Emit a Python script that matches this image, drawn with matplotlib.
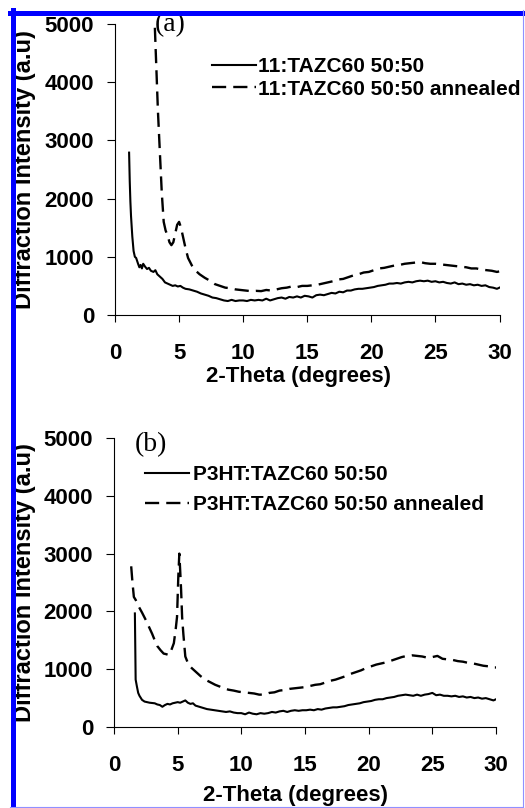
import matplotlib
matplotlib.use("Agg")
import matplotlib.pyplot as plt
from matplotlib.lines import Line2D

plt.rcParams['font.family'] = ['Liberation Sans', 'DejaVu Sans']
plt.rcParams['font.weight'] = 'bold'

# panel (a): 11:TAZC60 50:50
xa_solid = [1.10, 1.15, 1.20, 1.25, 1.35, 1.45, 1.55, 1.65, 1.8, 1.9, 2.0, 2.1, 2.2, 2.35, 2.5,
            2.65, 2.8, 3.0, 3.15, 3.3, 3.5, 3.7, 3.9, 4.1, 4.3, 4.5, 4.7, 4.9, 5.1, 5.3, 5.5,
            5.8, 6.1, 6.4, 6.7, 7.0, 7.3, 7.6, 7.9, 8.2, 8.5, 8.8, 9.1, 9.4, 9.7, 10.0, 10.3,
            10.6, 10.9, 11.2, 11.5, 11.8, 12.1, 12.4, 12.7, 13.0, 13.3, 13.6, 13.9, 14.2, 14.5,
            14.8, 15.1, 15.4, 15.7, 16.0, 16.3, 16.6, 16.9, 17.2, 17.5, 17.8, 18.1, 18.4, 18.7,
            19.0, 19.3, 19.6, 19.9, 20.2, 20.5, 20.8, 21.1, 21.4, 21.7, 22.0, 22.3, 22.6, 22.9,
            23.2, 23.5, 23.8, 24.1, 24.4, 24.7, 25.0, 25.3, 25.6, 25.9, 26.2, 26.5, 26.8, 27.1,
            27.4, 27.7, 28.0, 28.3, 28.6, 28.9, 29.2, 29.5, 29.8, 30.0]
ya_solid = [2790, 2300, 1950, 1700, 1350, 1100, 1000, 980, 880, 820, 860, 800, 880, 830, 790,
            810, 760, 740, 770, 700, 660, 620, 560, 540, 520, 500, 510, 490, 500, 470, 450,
            440, 420, 400, 370, 350, 330, 300, 290, 270, 250, 240, 260, 240, 250, 250, 240,
            260, 250, 260, 250, 280, 250, 270, 290, 300, 280, 310, 300, 320, 300,
            330, 320, 300, 340, 350, 340, 360, 380, 370, 400, 390, 420, 420, 440,
            450, 450, 460, 470, 480, 500, 510, 520, 540, 540, 550, 540, 560, 570,
            560, 580, 590, 580, 590, 570, 580, 560, 570, 550, 540, 560, 530, 540,
            520, 530, 510, 520, 500, 510, 480, 470, 450, 470]

xa_dash = [3.05, 3.2, 3.35, 3.5, 3.65, 3.8, 3.95, 4.1, 4.25, 4.4, 4.55, 4.7, 4.85, 5.0, 5.15,
           5.3, 5.5, 5.7, 6.0, 6.3, 6.6, 7.0, 7.4, 7.8, 8.2, 8.6, 9.0, 9.4, 9.8, 10.2, 10.6,
           11.0, 11.4, 11.8, 12.2, 12.6, 13.0, 13.4, 13.8, 14.2, 14.6, 15.0, 15.4, 15.8, 16.2,
           16.6, 17.0, 17.4, 17.8, 18.2, 18.6, 19.0, 19.4, 19.8, 20.2, 20.6, 21.0, 21.4, 21.8,
           22.2, 22.6, 23.0, 23.4, 23.8, 24.2, 24.6, 25.0, 25.4, 25.8, 26.2, 26.6, 27.0, 27.4,
           27.8, 28.2, 28.6, 29.0, 29.4, 29.8, 30.0]
ya_dash = [5300, 4400, 3500, 2800, 2100, 1600, 1450, 1370, 1250, 1200, 1250, 1400, 1550, 1600, 1500,
           1350, 1150, 980, 850, 760, 700, 640, 590, 530, 500, 470, 460, 440, 430, 420, 410,
           415, 410, 430, 420, 440, 460, 470, 490, 480, 500, 500, 510, 520, 540,
           560, 580, 610, 620, 650, 680, 700, 730, 740, 770, 800, 810, 830, 850,
           860, 880, 890, 900, 910, 890, 880, 880, 870, 860, 850, 840, 830, 820,
           800, 800, 780, 770, 760, 740, 750]

# panel (b): P3HT:TAZC60 50:50
xb_solid = [1.64, 1.67, 1.70, 1.8, 1.9, 2.0, 2.2, 2.4, 2.6, 2.8, 3.0, 3.2, 3.4, 3.6, 3.8, 4.0,
            4.2, 4.4, 4.6, 4.8, 5.0, 5.2, 5.4, 5.6, 5.8, 6.0, 6.2, 6.4, 6.7, 7.0, 7.3, 7.6,
            7.9, 8.2, 8.5, 8.8, 9.1, 9.4, 9.7, 10.0, 10.3, 10.6, 10.9, 11.2, 11.5, 11.8, 12.1,
            12.4, 12.7, 13.0, 13.3, 13.6, 13.9, 14.2, 14.5, 14.8, 15.1, 15.4, 15.7, 16.0, 16.3,
            16.6, 16.9, 17.2, 17.5, 17.8, 18.1, 18.4, 18.7, 19.0, 19.3, 19.6, 19.9, 20.2, 20.5,
            20.8, 21.1, 21.4, 21.7, 22.0, 22.3, 22.6, 22.9, 23.2, 23.5, 23.8, 24.1, 24.4, 24.7,
            25.0, 25.3, 25.6, 25.9, 26.2, 26.5, 26.8, 27.1, 27.4, 27.7, 28.0, 28.3, 28.6, 28.9,
            29.2, 29.5, 29.8, 30.0]
yb_solid = [1965, 1400, 820, 700, 590, 540, 470, 440, 430, 420, 415, 410, 390, 380, 350, 380,
            400, 390, 410, 420, 430, 420, 440, 460, 420, 400, 410, 370, 350, 330, 310, 300,
            290, 280, 270, 260, 270, 250, 240, 240, 220, 250, 230, 220, 240, 230, 240,
            260, 250, 270, 280, 260, 280, 290, 280, 290, 290, 300, 290, 310, 300,
            320, 330, 340, 340, 350, 360, 380, 390, 400, 410, 430, 440, 450, 470,
            480, 480, 500, 510, 520, 540, 550, 560, 550, 540, 560, 540, 560, 570,
            590, 550, 560, 540, 540, 530, 540, 520, 530, 510, 520, 500, 510, 490,
            500, 480, 460, 480]

xb_dash = [1.35, 1.45, 1.56, 1.7, 1.95, 2.2, 2.5, 2.75, 3.0, 3.2, 3.4, 3.65, 3.9, 4.1, 4.3, 4.5,
           4.7, 4.85, 4.95, 5.05, 5.13, 5.2, 5.27, 5.35, 5.45, 5.6, 5.86, 6.1, 6.4, 6.8, 7.2,
           7.6, 7.95, 8.3, 8.6, 9.0, 9.4, 9.8, 10.2, 10.6, 11.0, 11.4, 11.8, 12.2, 12.6, 13.0,
           13.4, 13.8, 14.2, 14.6, 15.0, 15.4, 15.8, 16.2, 16.6, 17.0, 17.4, 17.8, 18.2, 18.6,
           19.0, 19.4, 19.8, 20.2, 20.6, 21.0, 21.4, 21.8, 22.2, 22.6, 23.0, 23.4, 23.8, 24.2,
           24.6, 25.0, 25.4, 25.8, 26.2, 26.6, 27.0, 27.4, 27.8, 28.2, 28.6, 29.0, 29.4, 29.8, 30.0]
yb_dash = [2780, 2500, 2250, 2200, 2080, 1980, 1850, 1730, 1610, 1500, 1400, 1330, 1270, 1260, 1245, 1330,
           1450, 1700, 1905, 2600, 3000, 2700, 2370, 1900, 1600, 1220, 1075, 1020, 960, 880, 815,
           770, 730, 700, 670, 645, 630, 610, 600, 590, 580, 560, 560, 590, 600, 630,
           640, 660, 670, 680, 690, 710, 730, 740, 770, 800, 820, 850, 880, 920,
           950, 980, 1020, 1050, 1080, 1100, 1120, 1150, 1180, 1210, 1230, 1240, 1230, 1220,
           1200, 1210, 1230, 1180, 1170, 1160, 1140, 1130, 1110, 1100, 1080, 1060, 1050, 1030, 1030]

labels_a = ['11:TAZC60 50:50', '11:TAZC60 50:50 annealed']
labels_b = ['P3HT:TAZC60 50:50', 'P3HT:TAZC60 50:50 annealed']
xticks = [0, 5, 10, 15, 20, 25, 30]
yticks = [0, 1000, 2000, 3000, 4000, 5000]

W, H = 525, 808
fig = plt.figure(figsize=(W / 100, H / 100), dpi=100)

def box(l, t, r, b):
    return [l / W, 1 - b / H, (r - l) / W, (b - t) / H]

ax1 = fig.add_axes(box(115, 24, 499.5, 315))
ax2 = fig.add_axes(box(114, 438, 496, 727))

dash = (0, (6, 3))

def setup(ax, xlab_y):
    ax.set_xlim(0, 30)
    ax.set_ylim(0, 5000)
    ax.set_xticks(xticks)
    ax.set_yticks(yticks)
    for s in ['top', 'right']:
        ax.spines[s].set_visible(False)
    for s in ['left', 'bottom']:
        ax.spines[s].set_linewidth(0.8)
    ax.tick_params(axis='x', length=5, width=0.8, pad=15, labelsize=16)
    ax.tick_params(axis='y', length=6, width=0.8, pad=9, labelsize=16)
    for t in ax.get_xticklabels() + ax.get_yticklabels():
        t.set_fontweight('bold')
    ax.set_xlabel('2-Theta (degrees)', fontsize=16, fontweight='bold')
    ax.set_ylabel('Diffraction Intensity (a.u)', fontsize=17, fontweight='bold')
    ax.xaxis.set_label_coords(0.476, xlab_y)
    ax.yaxis.set_label_coords(-0.205, 0.5)

ax1.plot(xa_solid, ya_solid, color='black', lw=1.5, label=labels_a[0])
ax1.plot(xa_dash, ya_dash, color='black', lw=1.7, linestyle=dash, label=labels_a[1])
setup(ax1, -0.175)
ax1.legend(loc='upper left', bbox_to_anchor=(0.252, 0.885), frameon=False,
           handlelength=2.1, handletextpad=0.1, borderpad=0, borderaxespad=0,
           labelspacing=0.15, prop={'weight': 'bold', 'size': 15})
ax1.text(0.104, 0.997, '(a)', transform=ax1.transAxes, family='Liberation Serif',
         fontweight='normal', fontsize=20, va='center', ha='left')

ax2.plot(xb_solid, yb_solid, color='black', lw=1.5, label=labels_b[0])
ax2.plot(xb_dash, yb_dash, color='black', lw=1.7, linestyle=dash, label=labels_b[1])
setup(ax2, -0.2)
ax2.legend(loc='upper left', bbox_to_anchor=(0.081, 0.905), frameon=False,
           handlelength=2.1, handletextpad=0.2, borderpad=0, borderaxespad=0,
           labelspacing=0.5, prop={'weight': 'bold', 'size': 15})
ax2.text(0.055, 0.976, '(b)', transform=ax2.transAxes, family='Liberation Serif',
         fontweight='normal', fontsize=20, va='center', ha='left')

# blue frame round the figure
fig.add_artist(Line2D([10 / W, 1], [1 - 12.5 / H] * 2, transform=fig.transFigure, color='#0000ff', lw=3.6))
fig.add_artist(Line2D([12.5 / W] * 2, [1 - 10 / H, 1 - 807 / H], transform=fig.transFigure, color='#0000ff', lw=3.6))
fig.add_artist(Line2D([523 / W] * 2, [1 - 10 / H, 1 - 807 / H], transform=fig.transFigure, color='#9090ff', lw=0.8))
fig.add_artist(Line2D([10 / W, 523 / W], [1 - 806.5 / H] * 2, transform=fig.transFigure, color='#9090ff', lw=0.8))

fig.savefig('out.png', dpi=100)
